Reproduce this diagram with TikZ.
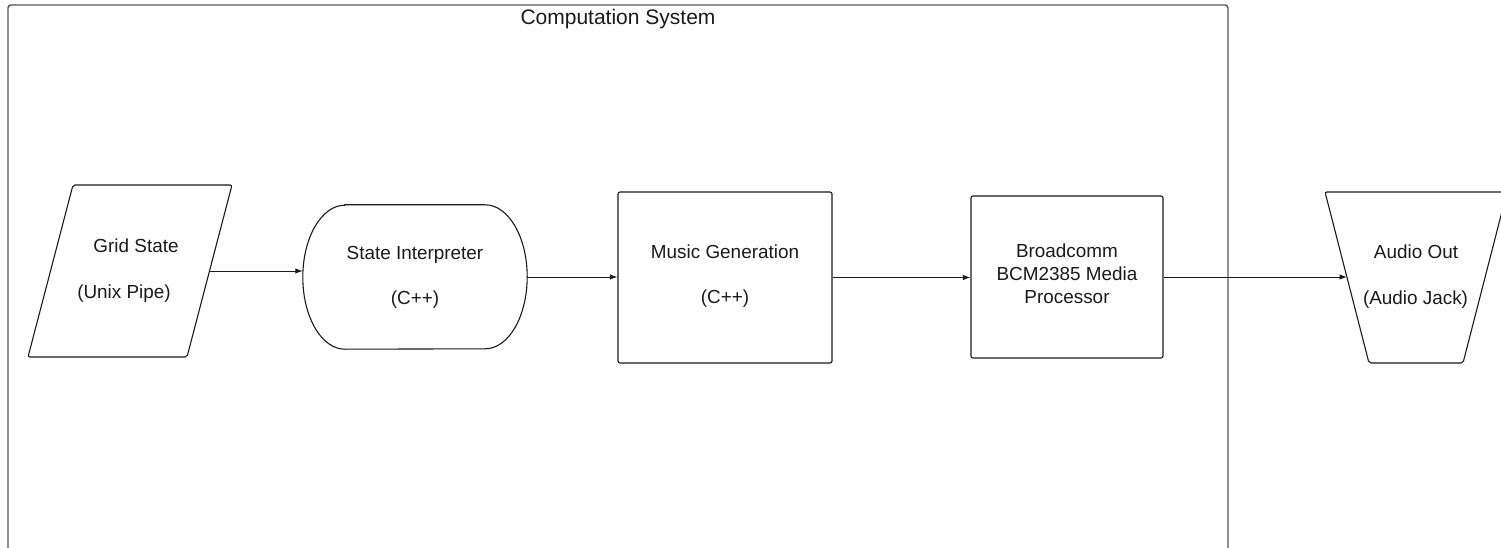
\documentclass[tikz,border=0pt]{standalone}
\usepackage{fontspec}
\setmainfont{Liberation Sans}
\usetikzlibrary{arrows.meta,calc}
\definecolor{ink}{HTML}{1A1A1A}
\definecolor{framec}{HTML}{555555}
\tikzset{
  frame/.style={draw=framec,line width=1.4pt,rounded corners=3pt},
  shp/.style={draw=ink,line width=1.1pt,rounded corners=2pt},
  boxnode/.style={shp,rectangle,inner sep=0pt},
  ghost/.style={rectangle,inner sep=0pt},
  txt/.style={inner sep=0pt,anchor=base,text=ink,font=\fontsize{18.9}{22.5}\selectfont},
  ttl/.style={inner sep=0pt,anchor=base,text=ink,font=\fontsize{21}{25}\selectfont},
  arr/.style={draw=ink,line width=1pt,-{Latex[length=7.5pt,width=5.5pt]}}
}
\begin{document}
\begin{tikzpicture}[x=1pt,y=-1pt]
\useasboundingbox (0,0) rectangle (1501,548);
% outer frame
\draw[frame] (8,5) rectangle (1228,600);
\node[ttl] (title) at (618,25) {Computation System};

% Grid State parallelogram
\draw[shp] (73,185) -- (232,185) -- (187,357) -- (28,357) -- cycle;
\coordinate (gridE) at (209.5,271);
\node[txt] (gridA) at (136,252) {Grid State};
\node[txt] (gridB) at (124,298) {(Unix Pipe)};

% State Interpreter
\node[ghost,minimum width=224pt,minimum height=144pt] (interp) at (415,277) {};
\draw[shp,sharp corners] ($(interp.north west)+(42,0)$) -- ($(interp.north east)+(-42,0)$)
  arc[start angle=90,end angle=-90,x radius=42pt,y radius=72pt]
  -- ($(interp.south west)+(42,0)$)
  arc[start angle=270,end angle=90,x radius=42pt,y radius=72pt] -- cycle;
\node[txt] (interpA) at (415,259) {State Interpreter};
\node[txt] (interpB) at (415,304) {(C++)};

% Music Generation
\node[boxnode,minimum width=214pt,minimum height=171pt] (music) at (725,277.5) {};
\node[txt] (musicA) at (725,258) {Music Generation};
\node[txt] (musicB) at (725,303) {(C++)};

% Broadcomm
\node[boxnode,minimum width=192pt,minimum height=162pt] (bcm) at (1067,277) {};
\node[txt] (bcmA) at (1067,257) {Broadcomm};
\node[txt] (bcmB) at (1067,280) {BCM2385 Media};
\node[txt] (bcmC) at (1067,303) {Processor};

% Audio Out trapezoid
\draw[shp] (1325,192) -- (1507,192) -- (1463,363) -- (1369,363) -- cycle;
\coordinate (audioW) at (1347,277);
\node[txt] (audioA) at (1416,258) {Audio Out};
\node[txt] (audioB) at (1415.5,304) {(Audio Jack)};

% connectors
\draw[arr] (gridE) -- (gridE -| interp.west);
\draw[arr] (interp.east) -- (interp.east -| music.west);
\draw[arr] (music.east) -- (music.east -| bcm.west);
\draw[arr] (bcm.east) -- (audioW);
\end{tikzpicture}
\end{document}
